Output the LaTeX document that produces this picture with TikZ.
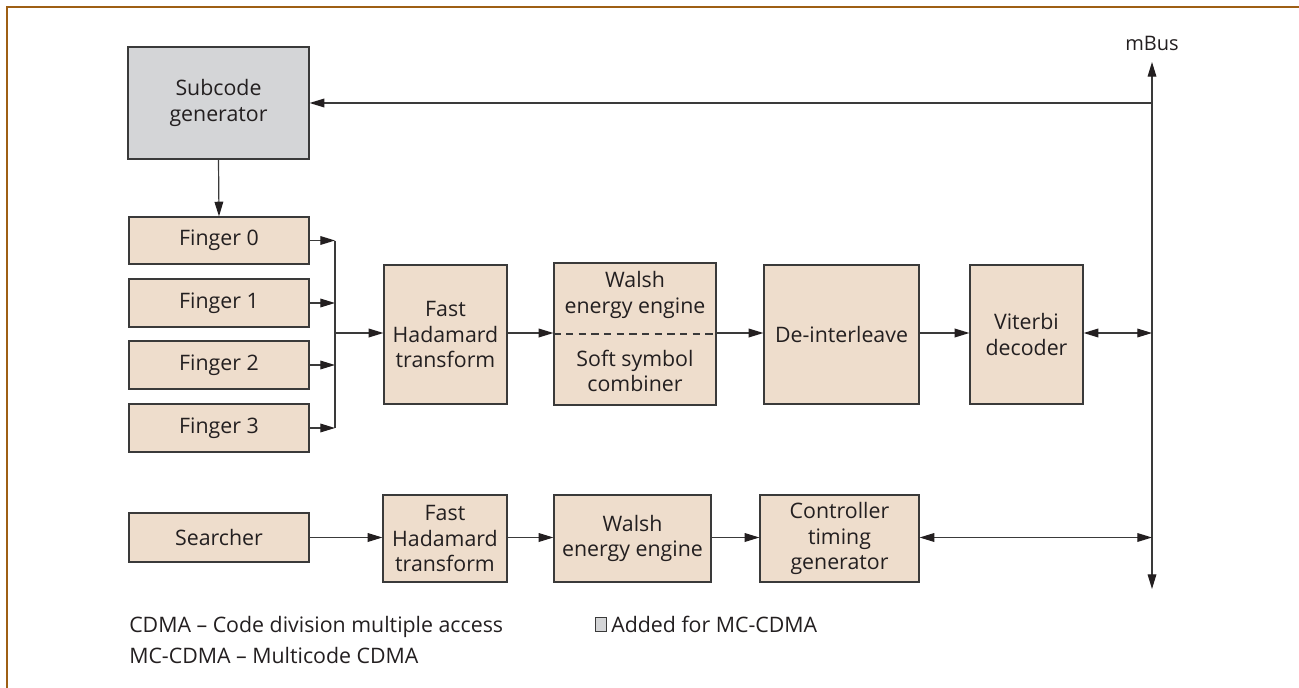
\documentclass[tikz,border=0pt]{standalone}
\usepackage{fontspec}
\setmainfont{Open Sans}
\usetikzlibrary{arrows.meta}
\definecolor{boxfill}{HTML}{EEDDCC}
\definecolor{subfill}{HTML}{D4D5D7}
\definecolor{framec}{HTML}{9E5F14}
\definecolor{linec}{HTML}{3A3A3A}
\definecolor{textc}{HTML}{231F20}

% \blockbox[options]{name}{x1}{y1}{x2}{y2}{text}: a block given by its corners
\newcommand\blockbox[7][]{%
  \node[blk,#1,minimum width={(#5-#3)*0.75pt},minimum height={(#6-#4)*0.75pt}]
    (#2) at ({(#3+#5)/2},{(#4+#6)/2}) {#7};}

\begin{document}
\begin{tikzpicture}[x=0.75pt,y=-0.75pt,
  blkfont/.style={font=\fontsize{16}{19}\selectfont},
  blk/.style={draw=linec,line width=0.9pt,fill=boxfill,align=center,inner sep=0pt,
    text=textc,blkfont},
  wire/.style={draw=linec,line width=0.9pt},
  arr/.style={wire,-{Triangle[length=11pt,width=6.5pt,color=textc]}},
  darr/.style={wire,{Triangle[length=11pt,width=6.5pt,color=textc]}-{Triangle[length=11pt,width=6.5pt,color=textc]}},
  lbl/.style={text=textc,inner sep=0pt,font=\fontsize{16}{19}\selectfont}]

\useasboundingbox (0,0) rectangle (1299,688);
\fill[white] (0,0) rectangle (1299,688);

% frame along the top and left edges
\draw[framec,line width=1.9pt] (7,688) -- (7,7) -- (1299,7);

% blocks
\blockbox[fill=subfill]{sub}{128}{47}{309}{159}{Subcode\\generator}
\blockbox{f0}{129}{217}{309}{264}{Finger 0}
\blockbox{f1}{129}{279}{309}{327}{Finger 1}
\blockbox{f2}{129}{341}{309}{389}{Finger 2}
\blockbox{f3}{129}{404}{309}{452}{Finger 3}
\blockbox{fht}{384}{265}{507}{404}{Fast\\Hadamard\\transform}
\blockbox{walsh}{554}{263}{716}{405}{}
\blockbox{deint}{764}{265}{919}{404}{De-interleave}
\blockbox{vit}{970}{265}{1083}{404}{Viterbi\\decoder}
\blockbox{srch}{129}{513}{309}{562}{Searcher}
\blockbox{fhtb}{383}{495}{507}{582}{Fast\\Hadamard\\transform}
\blockbox{walshb}{554}{495}{711}{582}{Walsh\\energy engine}
\blockbox{ctrl}{760}{495}{919}{582}{Controller\\timing\\generator}

% two halves of the combined block
\node[lbl,blkfont,align=center] (wtop) at (635,295) {Walsh\\energy engine};
\node[lbl,blkfont,align=center] (wbot) at (635,371) {Soft symbol\\combiner};
\draw[wire,dash pattern=on 5.5pt off 4pt] (walsh.west) -- (walsh.east);

% mBus
\coordinate (bustop) at (1152,62);
\coordinate (busbot) at (1152,589);
\draw[darr] (busbot) -- (bustop);
\node[lbl,font=\fontsize{15}{18}\selectfont,anchor=base] (mbus) at (1152,51) {mBus};

% connections
\draw[arr] (bustop |- sub.east) -- (sub.east);
\draw[arr] (sub.south) -- (f0.north);
\coordinate (join) at (335,333);
\foreach \f in {f0,f1,f2,f3}{\draw[arr] (\f.east) -- (\f.east -| join);}
\draw[wire] (f0.east -| join) -- (f3.east -| join);
\draw[arr] (join) -- (join -| fht.west);
\draw[arr] (fht.east |- join) -- (walsh.west |- join);
\draw[arr] (walsh.east |- join) -- (deint.west |- join);
\draw[arr] (deint.east |- join) -- (vit.west |- join);
\draw[darr] (vit.east |- join) -- (bustop |- join);

\draw[arr] (srch.east) -- (srch.east -| fhtb.west);
\draw[arr] (fhtb.east |- srch.east) -- (walshb.west |- srch.east);
\draw[arr] (walshb.east |- srch.east) -- (ctrl.west |- srch.east);
\draw[darr] (ctrl.east |- srch.east) -- (bustop |- srch.east);

% legend
\node[lbl,anchor=base west] (leg1) at (129,632) {CDMA – Code division multiple access};
\node[lbl,anchor=base west] (leg2) at (129,663) {MC-CDMA – Multicode CDMA};
\node[draw=linec,line width=0.6pt,fill=subfill,inner sep=0pt,minimum width=8pt,minimum height=11pt,anchor=south west] (legsq) at (595,632) {};
\node[lbl,anchor=base west] (leg3) at (611,632) {Added for MC-CDMA};
\end{tikzpicture}
\end{document}
